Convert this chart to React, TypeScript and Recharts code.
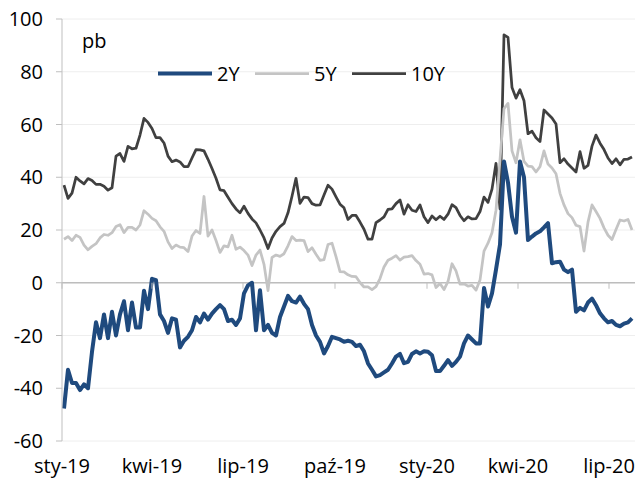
import { LineChart, Line, XAxis, YAxis, CartesianGrid, ReferenceLine } from 'recharts'

// days counted from 1 Jan 2019, one sample every few days
const FIRST_DAY = 2
const STEP_DAYS = 4

const TICK_DAYS = [0, 90, 181, 273, 365, 456, 547]
const TICK_LABELS = ['sty-19', 'kwi-19', 'lip-19', 'paź-19', 'sty-20', 'kwi-20', 'lip-20']
const Y_TICKS = [-60, -40, -20, 0, 20, 40, 60, 80, 100]

const Y2 = [
  -47.7, -33, -38, -38, -40.7, -38.5, -40, -26.2, -15, -21,
  -12, -21, -11, -20, -12, -7, -18, -7.5, -17, -17,
  -3, -10, 1.5, 1, -12, -14.5, -19, -13.5, -14, -24.5,
  -22, -20.5, -18, -13, -15, -11.7, -14, -11.7, -10, -8.5,
  -10, -14.5, -14, -16, -13.5, -4, -1, 0, -18, -2.8,
  -18, -16, -19, -20, -13, -9, -5, -7, -7.5, -5.3,
  -8, -10, -16, -20, -22.4, -26.8, -24, -20.5, -21, -21.5,
  -22.4, -22, -22.4, -24, -23.5, -26, -30.6, -33, -35.5, -35,
  -34, -33, -30.6, -28, -27, -30.5, -30, -27, -26, -26.8,
  -26, -26.2, -27.5, -33.5, -33.5, -31.5, -29.3, -31.5, -30, -28,
  -23, -20, -21.5, -23, -23, -2, -9, -4, 5, 14.5,
  46, 38, 25, 19, 46, 40, 16.2, 17.5, 18.7, 19.5,
  21, 22.6, 7.4, 7.8, 8, 5, 4, 5, -11, -9.5,
  -10.5, -7.5, -6, -8.5, -11.6, -13.5, -15, -14.5, -16, -16.5,
  -15.5, -15, -13.5,
]

const Y5 = [
  16.5, 17.5, 16, 18, 17.2, 14.3, 12.5, 13.8, 14.8, 17,
  18.3, 18, 19, 21.3, 22, 19, 21, 21, 20, 21.9,
  27.3, 26, 24.4, 23.5, 21.2, 19.5, 15.5, 13, 14.3, 13.5,
  13.3, 11.8, 17.7, 19.8, 18.7, 32.7, 17.7, 20, 16, 11.5,
  14, 13.6, 18, 12.7, 13.5, 12.2, 10.5, 6.5, 10.5, 12.4,
  7, -3, 9.6, 10.5, 10, 11, 14, 17.5, 16, 16.2,
  16, 11.8, 13.3, 10.8, 8.5, 8.8, 14.5, 15, 9.9, 4.2,
  4.1, 3, 2.4, 2.3, 0.1, -1.6, -1.6, -2.6, -1.5, 1.6,
  6, 8.5, 9.3, 10.3, 8.6, 9.7, 9.9, 10.3, 8.4, 7,
  3.3, 3.5, 3, -1.8, -0.3, -2.6, 0.5, 7.2, 4.5, -0.5,
  -0.4, -1.3, -1, -2.8, 1, 12, 15, 19, 27.5, 46.6,
  66, 68, 50, 45.5, 54.2, 46, 44.2, 44, 42, 44,
  50, 45, 43.5, 41.3, 33.9, 29.5, 26.2, 24.7, 21.8, 21.3,
  12, 23, 29.5, 27, 24.4, 20.8, 18, 16.4, 20.2, 23.8,
  23.4, 24, 20,
]

const Y10 = [
  37, 32, 34, 40, 38.6, 37.5, 39.5, 38.8, 37.3, 37.3,
  36.6, 35.1, 36, 48, 49, 46, 51.7, 50.8, 51, 56,
  62.3, 60.8, 58.5, 55, 55, 53, 48, 45.9, 46.5, 45.8,
  44, 44, 47.3, 50.5, 50.4, 50, 46.8, 43.3, 39.6, 35.2,
  34.9, 32.4, 30, 28, 26.5, 29, 26.3, 24.2, 22.7, 20,
  17, 13, 17, 19.5, 21.3, 22.5, 26.5, 32.8, 39.6, 30.1,
  32.5, 32.3, 30, 29.4, 29.5, 33.3, 37, 35.5, 32.6, 29.8,
  28.4, 24, 25.5, 25.5, 23, 20.3, 16.5, 16.5, 22.8, 23.8,
  25, 27.8, 28, 30, 31.4, 26, 29.6, 27.5, 27, 29.5,
  25, 22.8, 25.3, 23.9, 25.2, 24, 26, 29.6, 28.5, 25.5,
  23.5, 25, 24.2, 24.3, 27, 32.5, 30.5, 35.5, 45.3, 28,
  94, 93, 74, 70, 73.2, 69, 56.5, 57.5, 55, 53.5,
  65.5, 64, 62.5, 60.2, 45.5, 47, 45, 43.5, 42, 49.7,
  43.4, 44.5, 51.8, 56, 52.9, 50.5, 47.3, 45.2, 47, 44.7,
  46.8, 46.9, 47.7,
]

const SERIES = [
  { key: 'y10', name: '10Y', color: '#404040', width: 2.75 },
  { key: 'y5', name: '5Y', color: '#c4c4c4', width: 2.75 },
  { key: 'y2', name: '2Y', color: '#1f4a7e', width: 4 },
]
const LEGEND_ORDER = ['y2', 'y5', 'y10']

const W = 635
const H = 479
const MARGIN = { top: 19, right: 0, bottom: 0, left: 0 }
const Y_AXIS_W = 62
const X_AXIS_H = 38
const PLOT_H = H - MARGIN.top - MARGIN.bottom - X_AXIS_H
const ZERO_Y = MARGIN.top + PLOT_H * (100 / 160)
const FONT = '"Open Sans", sans-serif'

const data = Y2.map((v, i) => ({
  day: FIRST_DAY + i * STEP_DAYS,
  y2: v,
  y5: Y5[i],
  y10: Y10[i],
}))

function XTick(props: any) {
  const { x, payload } = props
  const idx = TICK_DAYS.indexOf(payload.value)
  return (
    <g>
      <line x1={x} x2={x} y1={ZERO_Y} y2={ZERO_Y + 6} stroke="#bfbfbf" />
      <text x={x} y={473} textAnchor="middle" fontSize={20} fill="#000">
        {TICK_LABELS[idx]}
      </text>
    </g>
  )
}

function Overlay() {
  let lx = 158
  const items = LEGEND_ORDER.map((k) => {
    const s = SERIES.find((d) => d.key === k)!
    const x0 = lx
    lx += 54 + 5 + (s.name.length === 2 ? 23 : 35) + 15
    return (
      <g key={k}>
        <line x1={x0} x2={x0 + 54} y1={73.5} y2={73.5} stroke={s.color} strokeWidth={s.width} />
        <text x={x0 + 59} y={81} fontSize={20} fill="#000">
          {s.name}
        </text>
      </g>
    )
  })
  return (
    <svg width={W} height={H} style={{ position: 'absolute', left: 0, top: 0, pointerEvents: 'none' }}>
      <text x={82} y={48} fontSize={20} fill="#000">
        pb
      </text>
      {items}
    </svg>
  )
}

export default function App() {
  return (
    <div style={{ position: 'absolute', left: 0, top: 0, width: W, height: H, background: '#fff', fontFamily: FONT }}>
      <LineChart width={W} height={H} data={data} margin={MARGIN}>
        <CartesianGrid vertical={false} stroke="#eeeeee" />
        <XAxis
          dataKey="day"
          type="number"
          domain={[0, 573]}
          ticks={TICK_DAYS}
          interval={0}
          height={X_AXIS_H}
          axisLine={false}
          tickLine={false}
          tick={<XTick />}
        />
        <YAxis
          domain={[-60, 100]}
          ticks={Y_TICKS}
          width={Y_AXIS_W}
          axisLine={{ stroke: '#bfbfbf' }}
          tickLine={{ stroke: '#bfbfbf' }}
          tickSize={6}
          tickMargin={13}
          tick={{ fill: '#000', fontSize: 20 }}
        />
        <ReferenceLine y={0} stroke="#bdbdbd" strokeWidth={1.5} />
        {SERIES.map((s) => (
          <Line
            key={s.key}
            type="linear"
            dataKey={s.key}
            name={s.name}
            stroke={s.color}
            strokeWidth={s.width}
            strokeLinejoin="round"
            dot={false}
            isAnimationActive={false}
          />
        ))}
      </LineChart>
      <Overlay />
    </div>
  )
}
